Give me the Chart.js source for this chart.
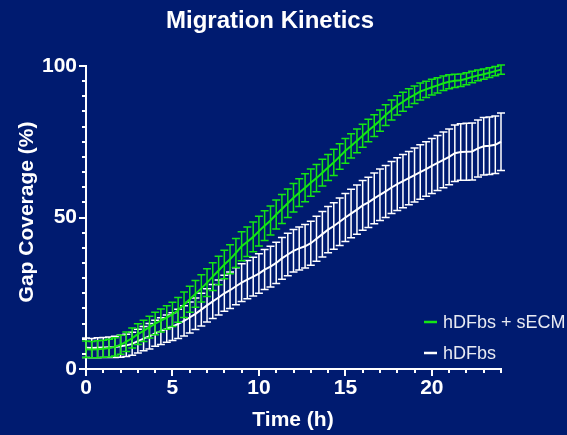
<!DOCTYPE html>
<html>
<head>
<meta charset="utf-8">
<title>Migration Kinetics</title>
<script src="https://cdn.jsdelivr.net/npm/chart.js@4.4.1/dist/chart.umd.min.js"></script>
<style>
  html, body { margin: 0; padding: 0; background: #001b70; }
  canvas { display: block; }
</style>
</head>
<body>
<canvas id="kinetics" width="567" height="435"></canvas>
<script>
// time points (h), imaged every 20 min
const timeH = [
  0, 0.33, 0.67, 1, 1.33, 1.67, 2, 2.33, 2.67, 3, 3.33, 3.67,
  4, 4.33, 4.67, 5, 5.33, 5.67, 6, 6.33, 6.67, 7, 7.33, 7.67,
  8, 8.33, 8.67, 9, 9.33, 9.67, 10, 10.33, 10.67, 11, 11.33, 11.67,
  12, 12.33, 12.67, 13, 13.33, 13.67, 14, 14.33, 14.67, 15, 15.33, 15.67,
  16, 16.33, 16.67, 17, 17.33, 17.67, 18, 18.33, 18.67, 19, 19.33, 19.67,
  20, 20.33, 20.67, 21, 21.33, 21.67, 22, 22.33, 22.67, 23, 23.33, 23.67,
  24
];

// hDFbs + sECM : mean gap coverage (%) and SD
const ecmMean = [
  6.5, 6.4, 6.5, 6.7, 6.9, 7.3, 8.0, 9.0, 10.2, 11.5, 12.6, 13.8,
  15.0, 16.0, 17.0, 18.0, 19.5, 21.2, 23.0, 24.8, 26.6, 28.5, 30.5, 32.5,
  34.5, 36.2, 38.3, 40.5, 42.0, 43.6, 45.5, 47.3, 49.0, 51.0, 52.8, 54.7,
  56.5, 58.2, 59.8, 61.5, 63.0, 64.8, 66.5, 68.2, 70.1, 72.0, 73.6, 75.3,
  77.0, 78.7, 80.3, 82.0, 83.8, 85.5, 87.0, 88.2, 89.5, 90.5, 91.6, 92.3,
  93.0, 93.6, 94.3, 94.8, 95.1, 95.3, 95.8, 96.4, 96.9, 97.3, 97.8, 98.3,
  98.8
];
const ecmSd = [
  2.7, 2.7, 2.8, 2.8, 2.9, 3.0, 3.1, 3.2, 3.3, 3.4, 3.5, 3.6,
  3.7, 3.8, 3.9, 4.0, 4.1, 4.2, 4.3, 4.4, 4.5, 4.6, 4.6, 4.7,
  4.7, 4.8, 4.8, 4.8, 4.9, 4.9, 4.9, 4.9, 4.8, 4.8, 4.8, 4.7,
  4.7, 4.6, 4.6, 4.5, 4.5, 4.4, 4.3, 4.3, 4.2, 4.1, 4.0, 3.9,
  3.8, 3.7, 3.6, 3.5, 3.4, 3.3, 3.2, 3.1, 3.0, 2.9, 2.8, 2.7,
  2.6, 2.5, 2.4, 2.3, 2.2, 2.1, 2.0, 1.9, 1.8, 1.7, 1.6, 1.5,
  1.5
];

// hDFbs : mean gap coverage (%) and SD
const ctrlMean = [
  7.0, 6.9, 7.0, 7.1, 7.2, 7.3, 7.5, 7.8, 8.3, 9.2, 10.0, 10.8,
  11.8, 12.5, 13.3, 14.0, 14.9, 15.9, 17.0, 18.2, 19.6, 21.0, 22.3, 23.6,
  25.0, 26.0, 27.3, 28.5, 29.5, 30.5, 31.5, 32.8, 33.8, 35.0, 36.5, 37.8,
  39.0, 39.8, 40.5, 41.5, 43.0, 44.5, 46.0, 47.2, 48.6, 50.0, 51.3, 52.6,
  54.0, 55.0, 56.3, 57.5, 58.6, 59.9, 61.0, 62.0, 63.0, 64.0, 65.0, 66.0,
  67.0, 68.0, 69.0, 70.0, 71.2, 71.6, 71.7, 71.8, 72.8, 73.5, 73.7, 74.0,
  75.0
];
const ctrlSd = [
  3.2, 3.2, 3.3, 3.3, 3.4, 3.5, 3.6, 3.7, 3.8, 3.9, 4.0, 4.2,
  4.3, 4.4, 4.5, 4.6, 4.8, 5.0, 5.1, 5.2, 5.4, 5.5, 5.6, 5.8,
  5.9, 6.0, 6.1, 6.2, 6.3, 6.4, 6.5, 6.6, 6.7, 6.8, 6.9, 7.0,
  7.0, 7.1, 7.2, 7.3, 7.4, 7.5, 7.6, 7.7, 7.8, 7.9, 8.0, 8.1,
  8.2, 8.3, 8.4, 8.5, 8.6, 8.6, 8.7, 8.8, 8.8, 8.9, 9.0, 9.0,
  9.1, 9.1, 9.2, 9.2, 9.3, 9.3, 9.4, 9.4, 9.4, 9.5, 9.5, 9.5,
  9.5
];

const seriesLabels = ["hDFbs + sECM", "hDFbs"];
const yMajorTicks = [0, 50, 100];
const xMajorTicks = [0, 5, 10, 15, 20];

const GREEN = '#14e614';
const WHITE = '#ffffff';
const FONT = "'Liberation Sans', Arial, sans-serif";

const toPoints = (means) => means.map((v, i) => ({ x: timeH[i], y: v }));

// error bars drawn right before each dataset's line
const errorBars = {
    id: 'errorBars',
    beforeDatasetDraw(chart, args) {
        const ds = chart.data.datasets[args.index];
        if (!ds.sd) return;
        const { ctx, scales: { x, y } } = chart;
        ctx.save();
        ctx.strokeStyle = ds.borderColor;
        ctx.lineWidth = 1.5;
        ctx.beginPath();
        ds.data.forEach((p, i) => {
            const px = x.getPixelForValue(p.x);
            const top = y.getPixelForValue(p.y + ds.sd[i]);
            const bot = y.getPixelForValue(p.y - ds.sd[i]);
            ctx.moveTo(px, top); ctx.lineTo(px, bot);
            ctx.moveTo(px - 4, top); ctx.lineTo(px + 4, top);
            ctx.moveTo(px - 4, bot); ctx.lineTo(px + 4, bot);
        });
        ctx.stroke();
        ctx.restore();
    }
};

// axis tick marks (major/minor), titles and legend
const decorations = {
    id: 'decorations',
    afterDraw(chart) {
        const { ctx, scales: { x, y }, chartArea } = chart;
        ctx.save();
        ctx.strokeStyle = WHITE;
        ctx.lineWidth = 2;
        ctx.beginPath();
        y.ticks.forEach(t => {
            const py = Math.round(y.getPixelForValue(t.value));
            const len = yMajorTicks.includes(t.value) ? 7 : 4;
            ctx.moveTo(chartArea.left - len, py);
            ctx.lineTo(chartArea.left, py);
        });
        x.ticks.forEach(t => {
            const px = Math.round(x.getPixelForValue(t.value));
            const len = xMajorTicks.includes(t.value) ? 7 : 4;
            ctx.moveTo(px, chartArea.bottom);
            ctx.lineTo(px, chartArea.bottom + len);
        });
        ctx.stroke();

        ctx.fillStyle = WHITE;
        ctx.textAlign = 'center';
        ctx.textBaseline = 'alphabetic';
        ctx.font = `bold 24px ${FONT}`;
        ctx.fillText('Migration Kinetics', 270, 28);

        ctx.font = `bold 21px ${FONT}`;
        ctx.fillText('Time (h)', 293, 426);

        ctx.save();
        ctx.translate(33, 212);
        ctx.rotate(-Math.PI / 2);
        ctx.fillText('Gap Coverage (%)', 0, 0);
        ctx.restore();

        // legend
        ctx.font = `18px ${FONT}`;
        ctx.textAlign = 'left';
        ctx.textBaseline = 'middle';
        chart.data.datasets.forEach((ds, i) => {
            const ly = 322 + i * 31;
            ctx.strokeStyle = ds.borderColor;
            ctx.lineWidth = 2.5;
            ctx.beginPath();
            ctx.moveTo(424, ly);
            ctx.lineTo(437, ly);
            ctx.stroke();
            ctx.fillStyle = '#e8eaf2';
            ctx.fillText(ds.label, 443, ly + 1);
        });
        ctx.restore();
    }
};

const ctx = document.getElementById('kinetics').getContext('2d');

new Chart(ctx, {
    type: 'line',
    data: {
        datasets: [
            {
                label: seriesLabels[0],
                data: toPoints(ecmMean),
                sd: ecmSd,
                borderColor: GREEN,
                borderWidth: 2,
                pointRadius: 0,
                tension: 0,
                clip: false
            },
            {
                label: seriesLabels[1],
                data: toPoints(ctrlMean),
                sd: ctrlSd,
                borderColor: WHITE,
                borderWidth: 2,
                pointRadius: 0,
                tension: 0,
                clip: false
            }
        ]
    },
    options: {
        responsive: false,
        devicePixelRatio: 1,
        animation: false,
        layout: { padding: { top: 66, right: 66, left: 0, bottom: 0 } },
        scales: {
            x: {
                type: 'linear',
                min: 0,
                max: 24,
                afterFit: (scale) => { scale.height = 66; },
                grid: { display: false, drawTicks: false },
                border: { display: true, color: WHITE, width: 2 },
                ticks: {
                    stepSize: 1,
                    autoSkip: false,
                    maxRotation: 0,
                    padding: 7,
                    color: WHITE,
                    font: { family: FONT, size: 21, weight: 'bold' },
                    callback: (v) => xMajorTicks.includes(v) ? v : ''
                }
            },
            y: {
                min: 0,
                max: 100,
                afterFit: (scale) => { scale.width = 86; },
                grid: { display: false, drawTicks: false },
                border: { display: true, color: WHITE, width: 2 },
                ticks: {
                    stepSize: 5,
                    autoSkip: false,
                    padding: 9,
                    color: WHITE,
                    font: { family: FONT, size: 21, weight: 'bold' },
                    callback: (v) => yMajorTicks.includes(v) ? v : ''
                }
            }
        },
        plugins: {
            legend: { display: false },
            tooltip: { enabled: false }
        }
    },
    plugins: [errorBars, decorations]
});
</script>
</body>
</html>
